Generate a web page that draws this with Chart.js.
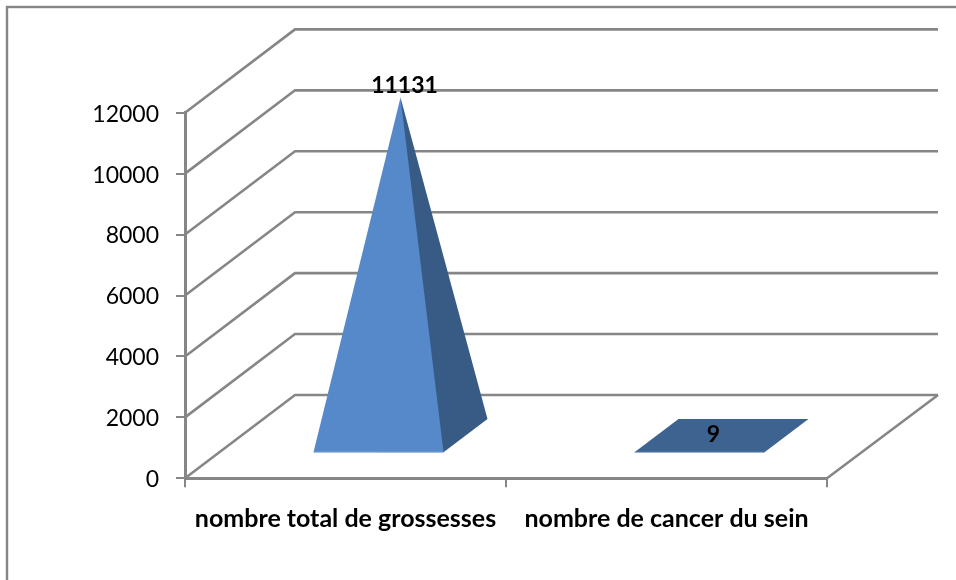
<!DOCTYPE html>
<html>
<head>
<meta charset="utf-8">
<title>Grossesses et cancer du sein</title>
<script src="https://cdn.jsdelivr.net/npm/chart.js@4"></script>
<style>
    html, body { margin: 0; padding: 0; background: #ffffff; overflow: hidden; }
    canvas { display: block; }
</style>
</head>
<body>
<canvas id="pyramid-chart" width="956" height="580"></canvas>
<script>
var categories = ['nombre total de grossesses', 'nombre de cancer du sein'];
var seriesValues = [11131, 9];
var valueTicks = [0, 2000, 4000, 6000, 8000, 10000, 12000];

// how far the back wall sits from the front plane, in pixels
var DEPTH_X = 110;
var DEPTH_Y = 83.3;

// base of each pyramid, as fractions of the floor depth
var BASE_FRONT = 0.3;
var BASE_BACK = 0.7;

var GRID_COLOR = '#868686';
var FONT_FAMILY = 'Lato, "Open Sans", sans-serif';

// label nudges for the value above each pyramid
var labelNudge = [[4, -12], [-8, -2]];

function project(x, y, depth) {
    return { x: x + depth * DEPTH_X, y: y - depth * DEPTH_Y };
}

function fillPoly(ctx, points, color) {
    ctx.beginPath();
    ctx.moveTo(points[0].x, points[0].y);
    for (var i = 1; i < points.length; i++) {
        ctx.lineTo(points[i].x, points[i].y);
    }
    ctx.closePath();
    ctx.fillStyle = color;
    ctx.fill();
}

var framePlugin = {
    id: 'frame',
    beforeDraw: function (chart) {
        // outer border, only left and top fall inside the canvas
        var ctx = chart.ctx;
        ctx.save();
        ctx.strokeStyle = GRID_COLOR;
        ctx.lineWidth = 2.4;
        ctx.strokeRect(7, 7, 1200, 1200);
        ctx.restore();
    }
};

var wallsPlugin = {
    id: 'walls',
    beforeDatasetsDraw: function (chart) {
        var ctx = chart.ctx;
        var area = chart.chartArea;
        var yScale = chart.scales.y;

        ctx.save();
        ctx.strokeStyle = GRID_COLOR;
        ctx.lineWidth = 2.6;
        valueTicks.forEach(function (v) {
            var y = yScale.getPixelForValue(v);
            var back = project(area.left, y, 1);
            ctx.beginPath();
            ctx.moveTo(area.left, y);
            ctx.lineTo(back.x, back.y);
            ctx.lineTo(area.right + DEPTH_X + 1, back.y);
            ctx.stroke();
        });

        // right edge of the floor
        var floorBack = project(area.right, area.bottom, 1);
        ctx.beginPath();
        ctx.moveTo(area.right, area.bottom);
        ctx.lineTo(floorBack.x + 1, floorBack.y);
        ctx.stroke();
        ctx.restore();
    }
};

var pyramidPlugin = {
    id: 'pyramids',
    afterDatasetsDraw: function (chart) {
        var ctx = chart.ctx;
        var bars = chart.getDatasetMeta(0).data;

        bars.forEach(function (bar, i) {
            var left = bar.x - bar.width / 2;
            var right = bar.x + bar.width / 2;
            var frontLeft = project(left, bar.base, BASE_FRONT);
            var frontMiddle = project(bar.x, bar.base, BASE_FRONT);
            var frontRight = project(right, bar.base, BASE_FRONT);
            var backLeft = project(left, bar.base, BASE_BACK);
            var backRight = project(right, bar.base, BASE_BACK);
            var apex = project(bar.x, bar.y, (BASE_FRONT + BASE_BACK) / 2);

            ctx.save();
            if (apex.y < backRight.y) {
                // side face runs under the front one so no seam shows between them
                fillPoly(ctx, [frontMiddle, frontRight, backRight, apex], '#375b85');
                fillPoly(ctx, [frontLeft, frontRight, apex], '#5689c9');
                ctx.strokeStyle = '#9dbbe3';
            } else {
                // too small to show any height, only the flat base is seen
                fillPoly(ctx, [frontLeft, frontRight, backRight, backLeft], '#3d6390');
                ctx.strokeStyle = '#8ba5c6';
            }
            ctx.lineWidth = 1;
            ctx.beginPath();
            ctx.moveTo(frontLeft.x, frontLeft.y);
            ctx.lineTo(frontRight.x, frontRight.y);
            ctx.stroke();

            ctx.fillStyle = '#000000';
            ctx.font = 'bold 23px ' + FONT_FAMILY;
            ctx.textAlign = 'center';
            ctx.textBaseline = 'middle';
            ctx.fillText(String(seriesValues[i]), apex.x + labelNudge[i][0], apex.y + labelNudge[i][1]);
            ctx.restore();
        });
    }
};

var pyramidChart = new Chart(
    document.getElementById('pyramid-chart').getContext('2d'),
    {
        type: 'bar',
        data: {
            labels: categories,
            datasets: [
                {
                    data: seriesValues,
                    backgroundColor: 'transparent',
                    categoryPercentage: 1,
                    barPercentage: 0.405
                }
            ]
        },
        options: {
            responsive: false,
            animation: false,
            events: [],
            layout: {
                autoPadding: false,
                padding: { left: 0, top: 112.7, right: 129, bottom: 0 }
            },
            plugins: {
                legend: { display: false },
                title: { display: false },
                tooltip: { enabled: false }
            },
            scales: {
                x: {
                    afterFit: function (scale) { scale.height = 101.7; },
                    grid: {
                        drawOnChartArea: false,
                        tickLength: 9,
                        tickColor: GRID_COLOR,
                        lineWidth: 2
                    },
                    border: { color: GRID_COLOR, width: 3 },
                    ticks: {
                        color: '#000000',
                        padding: 17,
                        maxRotation: 0,
                        autoSkip: false,
                        font: { family: FONT_FAMILY, size: 25, weight: 'bold' }
                    }
                },
                y: {
                    min: 0,
                    max: 12000,
                    afterFit: function (scale) { scale.width = 185; },
                    afterBuildTicks: function (scale) {
                        scale.ticks = valueTicks.map(function (v) { return { value: v }; });
                    },
                    grid: {
                        drawOnChartArea: false,
                        tickLength: 9,
                        tickColor: GRID_COLOR,
                        lineWidth: 2
                    },
                    border: { color: GRID_COLOR, width: 3 },
                    ticks: {
                        color: '#000000',
                        padding: 17,
                        labelOffset: 1.5,
                        callback: function (v) { return String(v); },
                        font: { family: FONT_FAMILY, size: 23 }
                    }
                }
            }
        },
        plugins: [framePlugin, wallsPlugin, pyramidPlugin]
    }
);
</script>
</body>
</html>
